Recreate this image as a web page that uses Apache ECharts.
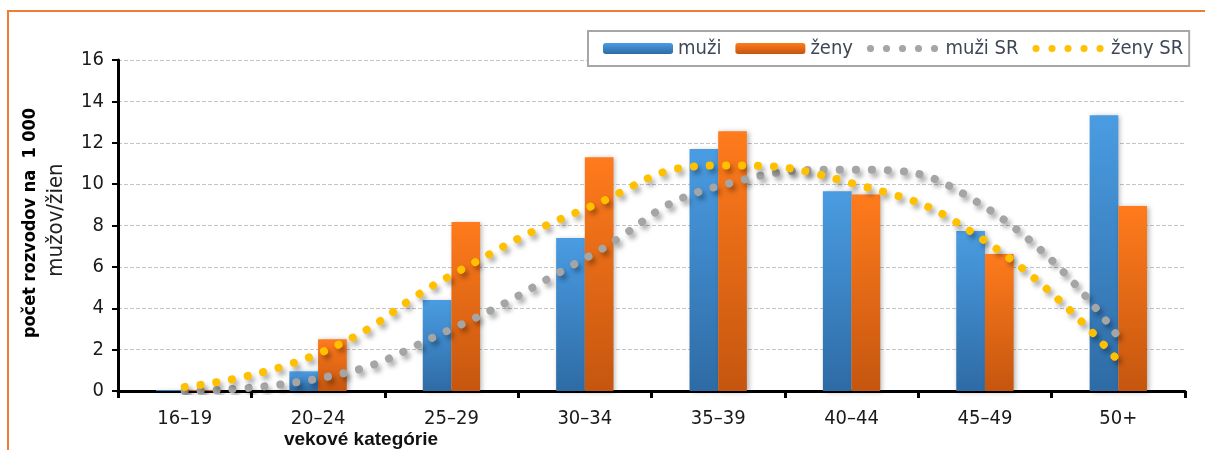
<!DOCTYPE html>
<html><head><meta charset="utf-8">
<script src="https://cdn.jsdelivr.net/npm/echarts@6/dist/echarts.min.js"></script>
<style>html,body{margin:0;padding:0;background:#fff}#c{width:1205px;height:450px}</style>
</head><body><div id="c"></div>
<script>
const categories = ['16–19','20–24','25–29','30–34','35–39','40–44','45–49','50+'];
const muzi   = [0.05, 0.95, 4.4, 7.4, 11.7, 9.66, 7.73, 13.33];
const zeny   = [0.05, 2.5, 8.17, 11.3, 12.56, 9.5, 6.62, 8.94];
const muziSR = [0.0, 0.6, 3.0, 6.4, 9.9, 10.7, 8.9, 2.6];
const zenySR = [0.2, 1.8, 5.6, 8.8, 10.9, 10.05, 7.26, 1.45];
const seriesNames = ['muži','ženy','muži SR','ženy SR'];
const yTitleBold = 'počet rozvodov na  1 000';
const yTitleNormal = 'mužov/žien';
const xTitle = 'vekové kategórie';

const NARROW = "'Liberation Sans Narrow','Arial Narrow','DejaVu Sans Condensed',sans-serif";
const chart = echarts.init(document.getElementById('c'));
function grad(top, bottom){
  return new echarts.graphic.LinearGradient(0,0,0,1,[{offset:0,color:top},{offset:1,color:bottom}]);
}
const dotLine = (color) => ({
  color: color, width: 8, type: [0.1, 15.9], cap: 'round',
  shadowColor: 'rgba(0,0,0,0.35)', shadowBlur: 5, shadowOffsetX: 3, shadowOffsetY: 4
});
const legendDot = (color) => ({color: color, width: 7, type: [0.1, 15.9], cap: 'round', shadowBlur: 0, shadowColor: 'transparent'});
chart.setOption({
  animation: false,
  backgroundColor: '#fff',
  grid: {left: 118, right: 20, top: 60, bottom: 59},
  legend: {
    data: [
      {name: seriesNames[0]},
      {name: seriesNames[1]},
      {name: seriesNames[2], itemStyle: {opacity: 0}, lineStyle: legendDot('#A5A5A5')},
      {name: seriesNames[3], itemStyle: {opacity: 0}, lineStyle: legendDot('#FFC000')}
    ],
    left: 588, top: 31, width: 600, orient: 'horizontal',
    itemWidth: 70, itemHeight: 11, itemGap: 14,
    padding: [6, 6, 6, 15],
    borderColor: '#A6A6A6', borderWidth: 2, backgroundColor: '#fff',
    textStyle: {fontSize: 20, lineHeight: 23, color: '#3F4756', fontFamily: NARROW}
  },
  xAxis: {
    type: 'category', data: categories, boundaryGap: true,
    axisLine: {lineStyle: {color: '#000', width: 3}},
    axisTick: {show: true, length: 7, lineStyle: {color: '#000', width: 3}},
    axisLabel: {fontSize: 20, color: '#1a1a1a', margin: 18, fontFamily: NARROW},
    splitLine: {show: false}
  },
  yAxis: {
    type: 'value', min: 0, max: 16, interval: 2,
    axisLine: {show: true, lineStyle: {color: '#000', width: 3}},
    axisTick: {show: true, length: 6, lineStyle: {color: '#000', width: 2}},
    axisLabel: {fontSize: 20, color: '#1a1a1a', margin: 14, fontFamily: NARROW},
    splitLine: {lineStyle: {type: 'dashed', color: '#C4C4C4', width: 1}}
  },
  series: [
    {name: seriesNames[0], type: 'bar', data: muzi, barCategoryGap: '57%', barGap: '0%',
     itemStyle: {color: grad('#4A9CE2', '#2E6BA5'), shadowColor: 'rgba(0,0,0,0.3)', shadowBlur: 5, shadowOffsetX: 2, shadowOffsetY: 1}},
    {name: seriesNames[1], type: 'bar', data: zeny, barCategoryGap: '57%', barGap: '0%',
     itemStyle: {color: grad('#FF7B1C', '#C5560F'), shadowColor: 'rgba(0,0,0,0.3)', shadowBlur: 5, shadowOffsetX: 2, shadowOffsetY: 1}},
    {name: seriesNames[2], type: 'line', data: muziSR, smooth: true, symbol: 'none', z: 5,
     itemStyle: {color: '#A5A5A5'}, lineStyle: dotLine('#A5A5A5')},
    {name: seriesNames[3], type: 'line', data: zenySR, smooth: true, symbol: 'none', z: 6,
     itemStyle: {color: '#FFC000'}, lineStyle: dotLine('#FFC000')}
  ],
  graphic: [
    {type: 'rect', shape: {x: 8, y: 11, width: 1400, height: 600}, style: {fill: 'none', stroke: '#ED7D31', lineWidth: 2}, silent: true, z: -1},
    {type: 'text', x: 30, y: 223, rotation: Math.PI/2,
     style: {text: yTitleBold, fontSize: 18, fontWeight: 'bold', fontFamily: NARROW, fill: '#000', align: 'center', verticalAlign: 'middle'}},
    {type: 'text', x: 56, y: 220, rotation: Math.PI/2,
     style: {text: yTitleNormal, fontSize: 22, fontFamily: NARROW, fill: '#222', align: 'center', verticalAlign: 'middle'}},
    {type: 'text', x: 361, y: 440,
     style: {text: xTitle, fontSize: 19, fontWeight: 'bold', fontFamily: "'Liberation Sans', sans-serif", fill: '#111', align: 'center', verticalAlign: 'middle'}}
  ]
});
</script></body></html>
